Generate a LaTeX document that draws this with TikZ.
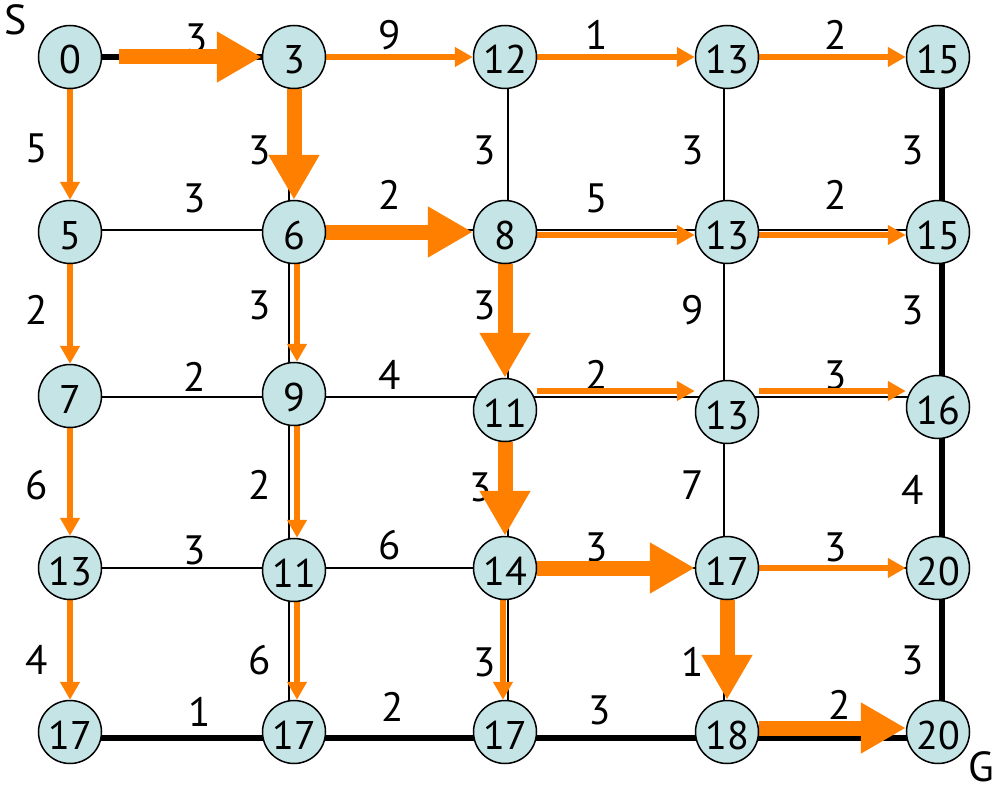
\documentclass[tikz,border=0pt]{standalone}
\usepackage{fontspec}
\setmainfont{PT Sans}
\usetikzlibrary{arrows.meta,backgrounds}
\definecolor{nodefill}{HTML}{C4E4E6}
\definecolor{org}{HTML}{FF7F00}
\tikzset{
  vtx/.style={circle, draw, line width=1.5pt, fill=nodefill, minimum size=63pt, inner sep=0pt, font=\fontsize{40}{40}\selectfont, text height=34pt, text depth=0pt},
  wlab/.style={font=\fontsize{41}{41}\selectfont, inner sep=0pt},
  endlab/.style={font=\fontsize{42}{42}\selectfont, inner sep=0pt},
  thinedge/.style={draw=black, line width=2.7pt},
  thickedge/.style={draw=black, line width=5.5pt},
  oarr/.style={draw=org, line width=6pt, -{Triangle[length=18pt,width=19pt]}},
  Oarr/.style={draw=org, line width=15pt, -{Triangle[length=45pt,width=48pt]}}
}
\begin{document}
\begin{tikzpicture}[x=1pt,y=-1pt]
\useasboundingbox (0,0) rectangle (1001,789);
% row 1
\node[vtx] (n0)  at (70,57)  {0};
\node[vtx] (n3)  at (294,57) {3};
\node[vtx] (n12) at (505,57) {12};
\node[vtx] (n13a) at (727,57) {13};
\node[vtx] (n15a) at (938,57) {15};
% row 2
\node[vtx] (n5)  at (70,232)  {5};
\node[vtx] (n6)  at (294,232) {6};
\node[vtx] (n8)  at (505,232) {8};
\node[vtx] (n13b) at (727,232) {13};
\node[vtx] (n15b) at (938,232) {15};
% row 3
\node[vtx] (n7)  at (70,396)  {7};
\node[vtx] (n9)  at (294,394) {9};
\node[vtx] (n11a) at (505,410) {11};
\node[vtx] (n13c) at (727,412) {13};
\node[vtx] (n16) at (938,407) {16};
% row 4
\node[vtx] (n13d) at (70,568)  {13};
\node[vtx] (n11b) at (294,570) {11};
\node[vtx] (n14) at (505,568) {14};
\node[vtx] (n17) at (727,568) {17};
\node[vtx] (n20a) at (938,568) {20};
% row 5
\node[vtx] (n17a) at (70,732)  {17};
\node[vtx] (n17b) at (294,732) {17};
\node[vtx] (n17c) at (505,732) {17};
\node[vtx] (n18) at (727,732) {18};
\node[vtx] (n20b) at (938,732) {20};

\node[endlab] (S) at (16,20) {S};
\node[endlab] (G) at (981,767) {G};

% helper coordinates for line offsets
\coordinate (r2b) at (0,230);
\coordinate (r2o) at (0,235);
\coordinate (r3b) at (0,397);
\coordinate (r3o) at (0,391);
\coordinate (r5b) at (0,738);
\coordinate (r5o) at (0,728);
\coordinate (c2b) at (289,0);
\coordinate (c2o) at (297,0);
\coordinate (c3b) at (508,0);
\coordinate (c3o) at (503,0);
\coordinate (c4b) at (724,0);
\coordinate (c5b) at (942,0);

\begin{pgfonlayer}{background}
% black grid lines
\draw[thickedge] (n0) -- (n3);
\draw[thinedge] (n5 |- r2b) -- (n15b |- r2b);
\draw[thinedge] (n7 |- r3b) -- (n16 |- r3b);
\draw[thinedge] (n13d) -- (n20a);
\draw[thickedge] (n17a |- r5b) -- (n20b |- r5b);
\draw[thinedge] (n3 -| c2b) -- (n17b -| c2b);
\draw[thinedge] (n12 -| c3b) -- (n17c -| c3b);
\draw[thinedge] (n13a -| c4b) -- (n18 -| c4b);
\draw[thickedge] (n15a -| c5b) -- (n20b -| c5b);

% weight labels
\node[wlab] (w1) at (197,38) {3};
\node[wlab] (w2) at (390,35) {9};
\node[wlab] (w3) at (597,35) {1};
\node[wlab] (w4) at (836,35) {2};
\node[wlab] (w5) at (195,198) {3};
\node[wlab] (w6) at (390,195) {2};
\node[wlab] (w7) at (597,198) {5};
\node[wlab] (w8) at (836,195) {2};
\node[wlab] (w9) at (195,377) {2};
\node[wlab] (w10) at (390,375) {4};
\node[wlab] (w11) at (597,375) {2};
\node[wlab] (w12) at (836,375) {3};
\node[wlab] (w13) at (195,550) {3};
\node[wlab] (w14) at (390,545) {6};
\node[wlab] (w15) at (597,547) {3};
\node[wlab] (w16) at (836,547) {3};
\node[wlab] (w17) at (200,712) {1};
\node[wlab] (w18) at (393,707) {2};
\node[wlab] (w19) at (600,710) {3};
\node[wlab] (w20) at (840,705) {2};
\node[wlab] (w21) at (37,148) {5};
\node[wlab] (w22) at (37,310) {2};
\node[wlab] (w23) at (37,485) {6};
\node[wlab] (w24) at (37,660) {4};
\node[wlab] (w25) at (260,150) {3};
\node[wlab] (w26) at (260,305) {3};
\node[wlab] (w27) at (260,485) {2};
\node[wlab] (w28) at (260,660) {6};
\node[wlab] (w29) at (485,150) {3};
\node[wlab] (w30) at (485,305) {3};
\node[wlab] (w31) at (481,487) {3};
\node[wlab] (w32) at (485,662) {3};
\node[wlab] (w33) at (693,150) {3};
\node[wlab] (w34) at (693,310) {9};
\node[wlab] (w35) at (693,485) {7};
\node[wlab] (w36) at (693,662) {1};
\node[wlab] (w37) at (913,150) {3};
\node[wlab] (w38) at (913,310) {3};
\node[wlab] (w39) at (913,490) {4};
\node[wlab] (w40) at (913,660) {3};

% thin orange arrows
\draw[oarr] (n0.south) -- (n5.north);
\draw[oarr] (n5.south) -- (n7.north);
\draw[oarr] (n7.south) -- (n13d.north);
\draw[oarr] (n13d.south) -- (n17a.north);
\draw[oarr] (n3.east) -- (n12.west);
\draw[oarr] (n12.east) -- (n13a.west);
\draw[oarr] (n13a.east) -- (n15a.west);
\draw[oarr] (n8.east |- r2o) -- (n13b.west |- r2o);
\draw[oarr] (n13b.east |- r2o) -- (n15b.west |- r2o);
\draw[oarr] (n6.south -| c2o) -- (n9.north -| c2o);
\draw[oarr] (n9.south -| c2o) -- (n11b.north -| c2o);
\draw[oarr] (n11b.south -| c2o) -- (n17b.north -| c2o);
\draw[oarr] (n14.south -| c3o) -- (n17c.north -| c3o);
\draw[oarr] (n11a.east |- r3o) -- (n13c.west |- r3o);
\draw[oarr] (n13c.east |- r3o) -- (n16.west |- r3o);
\draw[oarr] (n17.east) -- (n20a.west);

% thick orange arrows (shortest path)
\draw[Oarr, shorten <=17pt] (n0.east) -- (n3.west);
\draw[Oarr] (n3.south) -- (n6.north);
\draw[Oarr] (n6.east) -- (n8.west);
\draw[Oarr] (n8.south) -- (n11a.north);
\draw[Oarr] (n11a.south) -- (n14.north);
\draw[Oarr] (n14.east) -- (n17.west);
\draw[Oarr] (n17.south) -- (n18.north);
\draw[Oarr] (n18.east |- r5o) -- (n20b.west |- r5o);
\end{pgfonlayer}
\end{tikzpicture}
\end{document}
